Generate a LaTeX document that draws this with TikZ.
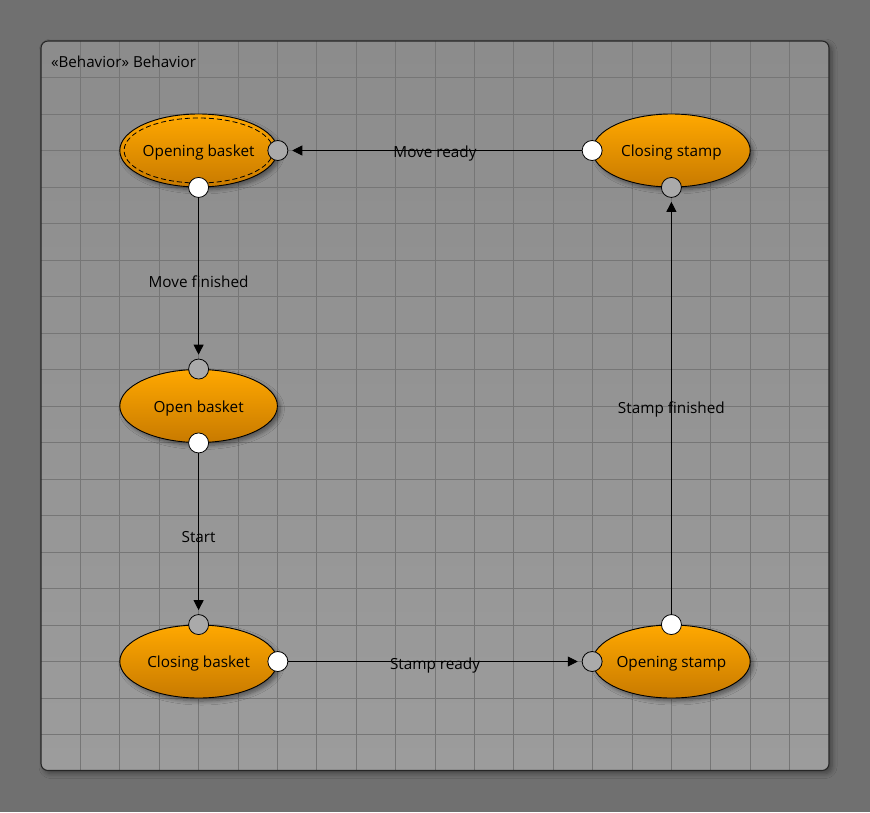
\documentclass[tikz,border=0pt]{standalone}
\usepackage{fontspec}
\setmainfont{Open Sans}
\usetikzlibrary{shapes.geometric,arrows.meta,shadows.blur}
\definecolor{outerbg}{RGB}{112,112,112}
\definecolor{frametop}{RGB}{140,140,140}
\definecolor{framebot}{RGB}{156,156,156}
\definecolor{gridc}{RGB}{118,118,118}
\definecolor{orangetop}{RGB}{255,168,0}
\definecolor{orangebot}{RGB}{200,122,0}
\definecolor{portgray}{RGB}{170,170,170}
\tikzset{
  state/.style={ellipse, draw=black, line width=0.9pt, top color=orangetop, bottom color=orangebot,
    minimum width=157.6pt, minimum height=73pt, inner sep=0pt,
    blur shadow={shadow xshift=3pt, shadow yshift=-3pt, shadow blur steps=6, shadow blur radius=4pt, shadow opacity=45}},
  stext/.style={font=\fontsize{15.3}{17}\selectfont, text=black},
  inport/.style={circle, draw=black, line width=0.8pt, fill=portgray, minimum size=20pt, inner sep=0pt},
  outport/.style={circle, draw=black, line width=0.8pt, fill=white, minimum size=20pt, inner sep=0pt},
  trans/.style={draw=black, line width=0.9pt, -{Triangle[length=10pt,width=10pt]}, shorten >=4pt},
  tlabel/.style={font=\fontsize{15.3}{17}\selectfont, text=black},
}
\begin{document}
\begin{tikzpicture}[x=1pt,y=-1pt]
\useasboundingbox (0,0) rectangle (870,812);
\fill[outerbg] (0,0) rectangle (870,812);
% frame
\path[rounded corners=7pt, top color=frametop, bottom color=framebot,
  blur shadow={shadow xshift=3pt, shadow yshift=-3pt, shadow blur steps=6, shadow blur radius=5pt, shadow opacity=40}]
  (41,41) rectangle (829,770.5);
\begin{scope}
\clip[rounded corners=7pt] (41,41) rectangle (829,770.5);
\foreach \i in {1,...,19} {
  \draw[gridc, line width=1pt] ({41+\i*39.4},41) -- ({41+\i*39.4},770.5);
  \draw[gridc, line width=1pt] (41,{41+\i*36.5}) -- (829,{41+\i*36.5});
}
\end{scope}
\draw[rounded corners=7pt, draw=black!85, line width=1.1pt] (41,41) rectangle (829,770.5);
\node[anchor=west, font=\fontsize{15.2}{17}\selectfont, text=black] (title) at (47.5,62) {«Behavior» Behavior};

% states
\node[state] (ob) at (198.6,150.5) {};
\draw[dash pattern=on 5pt off 3pt, line width=0.8pt] (ob.center) ellipse [x radius=74.5pt, y radius=32.5pt];
\node[state] (opb) at (198.6,406) {};
\node[state] (cb) at (198.6,661.5) {};
\node[state] (cs) at (671.4,150.5) {};
\node[state] (os) at (671.4,661.5) {};
\node[stext] (obt) at (198.6,153) {Opening basket};
\node[stext] (opbt) at (198.6,408.5) {Open basket};
\node[stext] (cbt) at (198.6,664) {Closing basket};
\node[stext] (cst) at (671.4,153) {Closing stamp};
\node[stext] (ost) at (671.4,664) {Opening stamp};

% ports
\node[inport] (obR) at (ob.east) {};
\node[outport] (obB) at (ob.south) {};
\node[inport] (opbT) at (opb.north) {};
\node[outport] (opbB) at (opb.south) {};
\node[inport] (cbT) at (cb.north) {};
\node[outport] (cbR) at (cb.east) {};
\node[inport] (osL) at (os.west) {};
\node[outport] (osT) at (os.north) {};
\node[outport] (csL) at (cs.west) {};
\node[inport] (csB) at (cs.south) {};

% transitions
\draw[trans] (obB) -- (opbT);
\draw[trans] (opbB) -- (cbT);
\draw[trans] (cbR) -- (osL);
\draw[trans] (osT) -- (csB);
\draw[trans] (csL) -- (obR);

% labels
\node[tlabel] (l1) at (198.6,281.5) {Move finished};
\node[tlabel] (l2) at (198.6,537.5) {Start};
\node[tlabel] (l3) at (435,665.5) {Stamp ready};
\node[tlabel] (l4) at (671.4,409.5) {Stamp finished};
\node[tlabel] (l5) at (435,153.5) {Move ready};
\end{tikzpicture}
\end{document}
